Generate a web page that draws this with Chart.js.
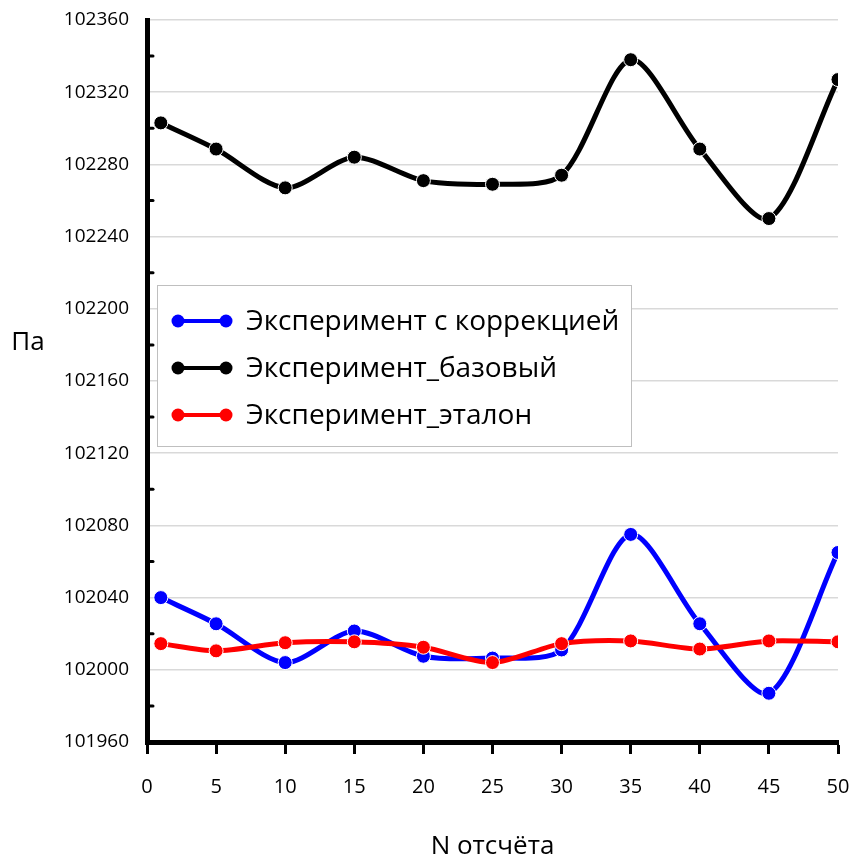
<!DOCTYPE html>
<html>
<head>
<meta charset="utf-8">
<script src="https://cdn.jsdelivr.net/npm/chart.js@4.4.1/dist/chart.umd.min.js"></script>
<style>
html,body{margin:0;padding:0;background:#fff;}
#wrap{width:854px;height:860px;position:relative;}
</style>
</head>
<body>
<div id="wrap"><canvas id="c" width="854" height="860"></canvas></div>
<script>
const xValues = [1, 5, 10, 15, 20, 25, 30, 35, 40, 45, 50];
const seriesCorrected = [102040, 102025.5, 102004, 102021.5, 102007.5, 102006.5, 102011, 102075, 102025.5, 101987, 102065];
const seriesBase = [102303, 102288.5, 102267, 102284, 102271, 102269, 102274, 102338, 102288.5, 102250, 102327];
const seriesReference = [102014.5, 102010.5, 102015, 102015.5, 102012.5, 102004, 102014.5, 102016, 102011.5, 102016, 102015.5];
const seriesNames = ['Эксперимент с коррекцией', 'Эксперимент_базовый', 'Эксперимент_эталон'];
const yTitle = 'Па';
const xTitle = 'N отсчёта';

const FONT = "'Open Sans', 'Noto Sans', sans-serif";
const toPts = arr => arr.map((v, i) => ({x: xValues[i], y: v}));
const colors = ['#0000ff', '#000000', '#ff0000'];

function ds(label, data, color, order) {
  return {
    label, data: toPts(data), borderColor: color, backgroundColor: color,
    borderWidth: 5, tension: 0.28, pointRadius: 7, pointHoverRadius: 7,
    pointBorderColor: '#ffffff', pointBorderWidth: 1, pointBackgroundColor: color,
    order, fill: false
  };
}

const extras = {
  id: 'extras',
  afterDraw(chart) {
    const ctx = chart.ctx;
    const ys = chart.scales.y;
    const left = chart.chartArea.left;
    ctx.save();
    // minor ticks on y axis
    ctx.strokeStyle = '#000'; ctx.lineWidth = 3; ctx.lineCap = 'round';
    for (let v = 101980; v < 102360; v += 40) {
      const py = ys.getPixelForValue(v);
      ctx.beginPath(); ctx.moveTo(left, py); ctx.lineTo(left + 6, py); ctx.stroke();
    }
    // y title
    ctx.fillStyle = '#000';
    ctx.font = "26px " + FONT;
    ctx.textAlign = 'center'; ctx.textBaseline = 'middle';
    ctx.fillText(yTitle, 28, 343);
    // legend
    const bx = 157.5, by = 285.5, bw = 474, bh = 161;
    ctx.fillStyle = '#fff';
    ctx.fillRect(bx, by, bw, bh);
    ctx.strokeStyle = '#bfbfbf'; ctx.lineWidth = 1;
    ctx.strokeRect(bx, by, bw, bh);
    const rows = [321, 368, 415];
    chart.data.datasets.forEach((d, i) => {
      const y = rows[i];
      ctx.strokeStyle = d.borderColor; ctx.lineWidth = 4; ctx.lineCap = 'butt';
      ctx.beginPath(); ctx.moveTo(178, y); ctx.lineTo(226, y); ctx.stroke();
      ctx.fillStyle = d.borderColor;
      [178, 226].forEach(cx => { ctx.beginPath(); ctx.arc(cx, y, 6.5, 0, Math.PI * 2); ctx.fill(); });
      ctx.fillStyle = '#000';
      ctx.font = "28px " + FONT;
      ctx.textAlign = 'left'; ctx.textBaseline = 'middle';
      ctx.fillText(d.label, 246, y + 1);
    });
    ctx.restore();
  }
};

new Chart(document.getElementById('c'), {
  type: 'line',
  data: {
    datasets: [
      ds(seriesNames[0], seriesCorrected, colors[0], 2),
      ds(seriesNames[1], seriesBase, colors[1], 1),
      ds(seriesNames[2], seriesReference, colors[2], 0)
    ]
  },
  options: {
    responsive: false, animation: false,
    layout: {padding: {left: 0, right: 16, top: 20, bottom: 0}},
    plugins: {legend: {display: false}, tooltip: {enabled: false}},
    scales: {
      x: {
        type: 'linear', min: 0, max: 50,
        ticks: {stepSize: 5, color: '#000', font: {family: FONT, size: 20}, padding: 21, maxRotation: 0,
                callback: v => String(v)},
        grid: {drawOnChartArea: false, drawTicks: true, tickLength: 12, tickColor: '#000', tickWidth: 3},
        border: {display: true, color: '#000', width: 5},
        title: {display: true, text: xTitle, color: '#000', font: {family: FONT, size: 26, lineHeight: 1}, padding: {top: 0, bottom: 0}},
        afterFit(s) { s.height = 118; s.paddingLeft = 0; s.paddingRight = 0; }
      },
      y: {
        type: 'linear', min: 101960, max: 102360,
        ticks: {stepSize: 40, color: '#000', font: {family: FONT, size: 19}, padding: 18,
                callback: v => String(v)},
        grid: {color: '#d9d9d9', lineWidth: 1.5, drawTicks: false},
        border: {display: true, color: '#000', width: 5},
        afterFit(s) { s.width = 147; s.paddingTop = 0; s.paddingBottom = 0; }
      }
    }
  },
  plugins: [extras]
});
</script>
</body>
</html>
